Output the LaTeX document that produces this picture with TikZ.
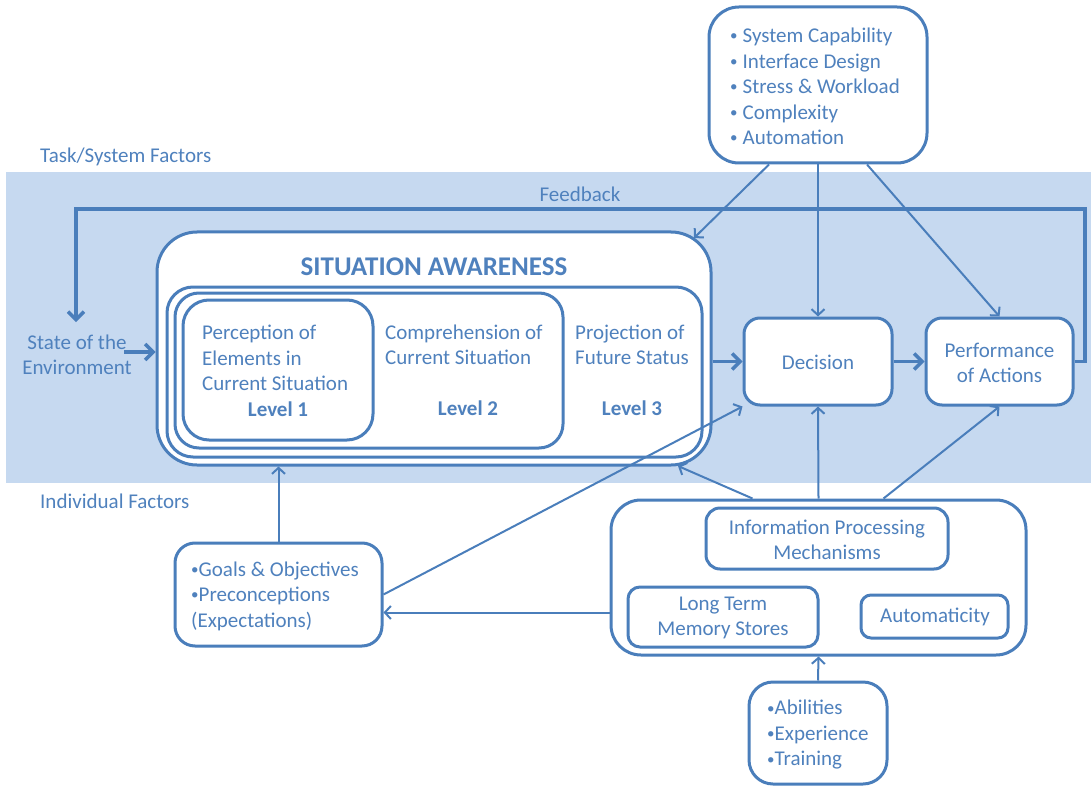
\documentclass[tikz,border=0pt]{standalone}
\usepackage{fontspec}
\setmainfont{Carlito}
\usetikzlibrary{arrows.meta,calc}
\definecolor{lineblue}{RGB}{74,126,187}
\definecolor{textblue}{RGB}{79,129,189}
\definecolor{bandblue}{RGB}{198,217,240}
% small list bullet, centred on the lowercase letters
\newcommand{\lbul}{\raisebox{1.8pt}{\fontsize{15}{15}\selectfont\textbullet}}

\begin{document}
\begin{tikzpicture}[x=1pt,y=-1pt,
  box/.style={draw=lineblue, line width=3pt, fill=white, inner sep=0pt, rectangle},
  txt/.style={text=textblue, inner sep=0pt, font=\fontsize{21}{25.5}\selectfont},
  boldtxt/.style={txt, font=\fontsize{21}{25.5}\selectfont\bfseries},
  thin arrow/.style={draw=lineblue, line width=2pt, -{Straight Barb[length=6pt,width=13pt]}},
  thick arrow/.style={draw=lineblue, line width=3.5pt, -{Straight Barb[length=8pt,width=16pt]}},
]
\useasboundingbox (0,0) rectangle (1091,786);

% task/system band
\fill[bandblue] (6,172) rectangle (1091,483);
\node[txt, anchor=west] (tsf) at (40,157) {Task/System Factors};
\node[txt, anchor=west] (indf) at (40,501) {Individual Factors};
\node[txt] (fbtxt) at (580,194) {Feedback};

% task/system factors list
\node[box, minimum width=218, minimum height=156, rounded corners=30] (sysf) at (818,85) {};
\node[txt, anchor=west, align=left] (sysftxt) at (730,86.5)
  {\lbul\hspace{5pt}System Capability\\ \lbul\hspace{5pt}Interface Design\\ \lbul\hspace{5pt}Stress \& Workload\\ \lbul\hspace{5pt}Complexity\\ \lbul\hspace{5pt}Automation};

% environment
\node[txt, align=center] (env) at (77,355) {State of the\\Environment};

% situation awareness nest
\node[box, minimum width=554, minimum height=233, rounded corners=40] (sa) at (434,348.5) {};
\node[txt, font=\fontsize{27}{31}\selectfont\bfseries] (satitle) at (434,267) {SITUATION AWARENESS};
\node[box, minimum width=535, minimum height=170, rounded corners=26] (lvthree) at (434.5,372) {};
\node[box, minimum width=388, minimum height=155, rounded corners=24] (lvtwo) at (369,370.5) {};
\node[box, minimum width=190, minimum height=140, rounded corners=26] (lvone) at (278,370) {};

\node[txt, anchor=west, align=left] (lvonetxt) at (202,358) {Perception of\\Elements in\\Current Situation};
\node[boldtxt] (lvonelab) at (278,409) {Level 1};
\node[txt, anchor=west, align=left] (lvtwotxt) at (385,345) {Comprehension of\\Current Situation};
\node[boldtxt] (lvtwolab) at (468,408) {Level 2};
\node[txt, anchor=west, align=left] (lvthreetxt) at (575,345) {Projection of\\Future Status};
\node[boldtxt] (lvthreelab) at (632,408) {Level 3};

% decision and action
\node[box, minimum width=148, minimum height=87, rounded corners=16] (dec) at (818,361.5) {};
\node[txt] (dectxt) at (818,362) {Decision};
\node[box, minimum width=147, minimum height=87, rounded corners=16] (perf) at (999.5,361.5) {};
\node[txt, align=center] (perftxt) at (999.5,363) {Performance\\of Actions};

% individual factors
\node[box, minimum width=415, minimum height=155, rounded corners=30] (big) at (818.5,577.5) {};
\node[box, minimum width=242, minimum height=61, rounded corners=14] (info) at (827,538.5) {};
\node[txt, align=center] (infotxt) at (827,540) {Information Processing\\Mechanisms};
\node[box, minimum width=190, minimum height=60, rounded corners=12] (ltm) at (723,617) {};
\node[txt, align=center] (ltmtxt) at (723,618) {Long Term\\Memory Stores};
\node[box, minimum width=147, minimum height=43, rounded corners=10] (auto) at (934.5,616.5) {};
\node[txt] (autotxt) at (935,617) {Automaticity};

\node[box, minimum width=138, minimum height=102, rounded corners=24] (abil) at (818,733) {};
\node[txt, anchor=west, align=left] (abiltxt) at (767,735)
  {\lbul Abilities\\ \lbul Experience\\ \lbul Training};

\node[box, minimum width=207, minimum height=103, rounded corners=20] (goals) at (278.5,594.5) {};
\node[txt, anchor=west, align=left] (goalstxt) at (191,596)
  {\lbul Goals \& Objectives\\ \lbul Preconceptions\\ (Expectations)};

% feedback loop and main flow
\coordinate (fbR) at (1085,209);
\coordinate (fbL) at (76,209);
\coordinate (fbEnd) at (76,322);
\draw[thick arrow] (perf.east) -| (fbR) -- (fbL) -- (fbEnd);
\coordinate (envOut) at (124,352);
\draw[thick arrow] (envOut) -- (envOut -| sa.west);
\draw[thick arrow] (sa.east |- dec.west) -- (dec.west);
\draw[thick arrow] (dec.east) -- (perf.west);

% task/system influences
\coordinate (saNE) at (694,238);
\draw[thin arrow] ($(sysf.south)+(-49,0)$) -- (saNE);
\draw[thin arrow] (sysf.south) -- (dec.north);
\draw[thin arrow] ($(sysf.south)+(49,0)$) -- (perf.north);

% individual influences
\coordinate (saSE) at (678,466);
\draw[thin arrow] (abil.north) -- (big.south);
\draw[thin arrow] (big.north) -- (dec.south);
\draw[thin arrow] ($(big.north)+(-66,0)$) -- (saSE);
\draw[thin arrow] ($(big.north)+(65,0)$) -- (perf.south);
\coordinate (ltmOut) at ($(big.west)+(0,35)$);
\draw[thin arrow] (ltmOut) -- (ltmOut -| goals.east);
\draw[thin arrow] (goals.north) -- (goals.north |- sa.south);
\draw[thin arrow] (goals.east) -- (dec.south west);
\end{tikzpicture}
\end{document}
